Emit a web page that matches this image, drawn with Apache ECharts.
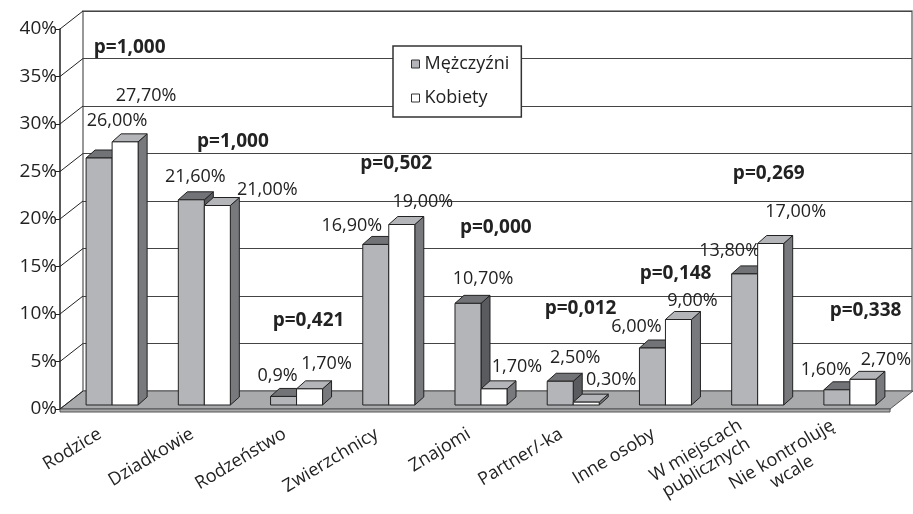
<!DOCTYPE html>
<html>
<head>
<meta charset="utf-8">
<script src="https://cdn.jsdelivr.net/npm/echarts@6/dist/echarts.min.js"></script>
<style>
  html, body { margin: 0; padding: 0; background: #fff; }
  #chart { width: 913px; height: 514px; }
</style>
</head>
<body>
<div id="chart"></div>
<script>
// dane
const categories = ["Rodzice", "Dziadkowie", "Rodzeństwo", "Zwierzchnicy", "Znajomi",
  "Partner/-ka", "Inne osoby", "W miejscach\npublicznych", "Nie kontroluję\nwcale"];
const men = [26.0, 21.6, 0.9, 16.9, 10.7, 2.5, 6.0, 13.8, 1.6];
const women = [27.7, 21.0, 1.7, 19.0, 1.7, 0.3, 9.0, 17.0, 2.7];
const pValues = ["p=1,000", "p=1,000", "p=0,421", "p=0,502", "p=0,000",
  "p=0,012", "p=0,148", "p=0,269", "p=0,338"];
const yTicks = [0, 5, 10, 15, 20, 25, 30, 35, 40];

// rozmieszczenie etykiet (tak jak w oryginale z Excela)
const menLabelShift = [[18, -37], [4, -23], [-6, -21], [-24, -19], [15, -24], [15, -23], [-16, -21], [-15, -23], [-11, -20]];
const womenLabelShift = [[21, -46], [50, -16], [17, -25], [21, -23], [23, -22], [25, -22], [14, -19], [25, -32], [23, -19]];
const pLabelAt = [[0.19, 37.6], [0.31, 27.7], [0.13, 8.9], [0.08, 25.4], [0.16, 18.7], [0.08, 10.1], [0.11, 13.8], [0.12, 24.4], [0.17, 9.9]];

const FONT = '"Open Sans", sans-serif';
const PLANE = [6, -4];   // przesunięcie płaszczyzny słupków względem osi
const DEPTH = [23, -18]; // głębokość "3D" wykresu
const BAR_DEPTH = [9, -8];

function fmt(v) {
  return v.toFixed(2).replace(".", ",") + "%";
}
const menLabels = men.map(fmt);
menLabels[2] = "0,9%"; // w oryginale bez drugiego miejsca
const womenLabels = women.map(fmt);

function barRenderer(side, colors, labels, shifts) {
  return function (params, api) {
    const i = api.value(0);
    const top = api.coord([i, api.value(1)]);
    const base = api.coord([i, 0]);
    const bw = api.size([1, 0])[0] * 0.282;
    const x0 = top[0] + (side === 0 ? -bw : 0) + PLANE[0];
    const x1 = x0 + bw;
    const yt = top[1] + PLANE[1];
    const yb = base[1] + PLANE[1];
    const dx = BAR_DEPTH[0], dy = BAR_DEPTH[1];
    const stroke = { stroke: "#222", lineWidth: 1 };
    const sh = shifts[i];
    return {
      type: "group",
      children: [
        { type: "polygon", shape: { points: [[x1, yt], [x1 + dx, yt + dy], [x1 + dx, yb + dy], [x1, yb]] },
          style: Object.assign({ fill: colors.side }, stroke) },
        { type: "polygon", shape: { points: [[x0, yt], [x1, yt], [x1 + dx, yt + dy], [x0 + dx, yt + dy]] },
          style: Object.assign({ fill: colors.top }, stroke) },
        { type: "rect", shape: { x: x0, y: yt, width: bw, height: yb - yt },
          style: Object.assign({ fill: colors.front }, stroke) },
        { type: "text", x: (x0 + x1) / 2 + sh[0], y: yt + sh[1], z2: 10,
          style: { text: labels[i], align: "center", verticalAlign: "middle",
            fontFamily: FONT, fontSize: 18, fill: "#222" } }
      ]
    };
  };
}

// ściana boczna, podłoga
function frameRenderer(params, api) {
  const cs = params.coordSys;
  const p = api.coord([0, api.value(1)]);
  const children = [];
  if (params.dataIndex === 0) {
    const y0 = p[1];
    const xl = cs.x, xr = cs.x + cs.width;
    children.push({ type: "polygon",
      shape: { points: [[xl, y0], [xr, y0], [xr + DEPTH[0], y0 + DEPTH[1]], [xl + DEPTH[0], y0 + DEPTH[1]]] },
      style: { fill: "#a9aaac", stroke: "#555", lineWidth: 1 } });
    children.push({ type: "rect", shape: { x: xl, y: y0, width: xr - xl, height: 3 },
      style: { fill: "#a9aaac", stroke: "#555", lineWidth: 1 } });
  }
  children.push({ type: "line",
    shape: { x1: cs.x, y1: p[1], x2: cs.x + DEPTH[0], y2: p[1] + DEPTH[1] },
    style: { stroke: "#222", lineWidth: 1 } });
  return { type: "group", children: children };
}

function pRenderer(params, api) {
  const i = params.dataIndex;
  const p = api.coord([i, pLabelAt[i][1]]);
  const band = api.size([1, 0])[0];
  return {
    type: "text",
    x: p[0] + pLabelAt[i][0] * band + PLANE[0],
    y: p[1] + PLANE[1],
    style: { text: pValues[i], align: "center", verticalAlign: "middle",
      fontFamily: FONT, fontSize: 19, fontWeight: "bold", fill: "#222" }
  };
}

// etykiety osi X: wiele linii wyśrodkowanych
function catLabel(value) {
  return value.split("\n").map(s => "{c|" + s + "}").join("\n");
}

let chart = echarts.init(document.getElementById("chart"));
let option = {
  animation: false,
  backgroundColor: "#fff",
  textStyle: { fontFamily: FONT },
  legend: {
    data: [{ name: "Mężczyźni", icon: "rect" }, { name: "Kobiety", icon: "rect" }],
    orient: "vertical",
    left: 393,
    top: 46,
    padding: [9, 12, 10, 18],
    itemGap: 16,
    itemWidth: 8,
    itemHeight: 8,
    borderColor: "#333",
    borderWidth: 1.5,
    backgroundColor: "#fff",
    itemStyle: { borderColor: "#333", borderWidth: 1 },
    textStyle: { fontFamily: FONT, fontSize: 18, color: "#222" },
    z: 20
  },
  grid: [
    // płaszczyzna przednia (osie)
    { left: 60, right: 23, top: 29, bottom: 105 },
    // tylna ściana
    { left: 83, right: 1, top: 11, bottom: 123, show: true, borderColor: "#777", borderWidth: 1.5, backgroundColor: "#fff", z: 0 }
  ],
  xAxis: [
    {
      type: "category",
      gridIndex: 0,
      data: categories,
      offset: 5,
      axisLine: { lineStyle: { color: "#555", width: 1.5 } },
      axisTick: { length: 8, lineStyle: { color: "#333" } },
      axisLabel: {
        interval: 0, rotate: 31, margin: 15, color: "#222",
        padding: [0, 7, 0, 0],
        formatter: catLabel,
        rich: { c: { align: "center", fontSize: 18, fontFamily: FONT, color: "#222", lineHeight: 20 } }
      }
    },
    { type: "value", gridIndex: 1, show: false }
  ],
  yAxis: [
    {
      type: "value",
      gridIndex: 0,
      min: 0,
      max: 40,
      interval: 5,
      axisLine: { show: true, lineStyle: { color: "#222", width: 1.5 } },
      axisTick: { show: true, length: 5, lineStyle: { color: "#222" } },
      axisLabel: { formatter: "{value}%", fontSize: 19, color: "#222", margin: 3, fontFamily: FONT },
      splitLine: { show: false }
    },
    {
      type: "value",
      gridIndex: 1,
      min: 0,
      max: 40,
      interval: 5,
      axisLine: { show: false },
      axisTick: { show: false },
      axisLabel: { show: false },
      splitLine: { show: true, lineStyle: { color: "#444", width: 1.2 } }
    }
  ],
  series: [
    {
      type: "custom",
      name: "frame",
      xAxisIndex: 0,
      yAxisIndex: 0,
      z: 1,
      silent: true,
      clip: false,
      renderItem: frameRenderer,
      data: yTicks.map(v => [0, v])
    },
    {
      type: "custom",
      name: "Mężczyźni",
      xAxisIndex: 0,
      yAxisIndex: 0,
      z: 3,
      clip: false,
      itemStyle: { color: "#b4b5b8" },
      renderItem: barRenderer(0, { front: "#b4b5b8", top: "#727376", side: "#5a5b5e" }, menLabels, menLabelShift),
      data: men.map((v, i) => [i, v])
    },
    {
      type: "custom",
      name: "Kobiety",
      xAxisIndex: 0,
      yAxisIndex: 0,
      z: 4,
      clip: false,
      itemStyle: { color: "#ffffff" },
      renderItem: barRenderer(1, { front: "#ffffff", top: "#b4b5b8", side: "#78797c" }, womenLabels, womenLabelShift),
      data: women.map((v, i) => [i, v])
    },
    {
      type: "custom",
      name: "p",
      xAxisIndex: 0,
      yAxisIndex: 0,
      z: 5,
      silent: true,
      clip: false,
      renderItem: pRenderer,
      data: pLabelAt.map((p, i) => [i, p[1]])
    }
  ]
};
chart.setOption(option);
</script>
</body>
</html>
